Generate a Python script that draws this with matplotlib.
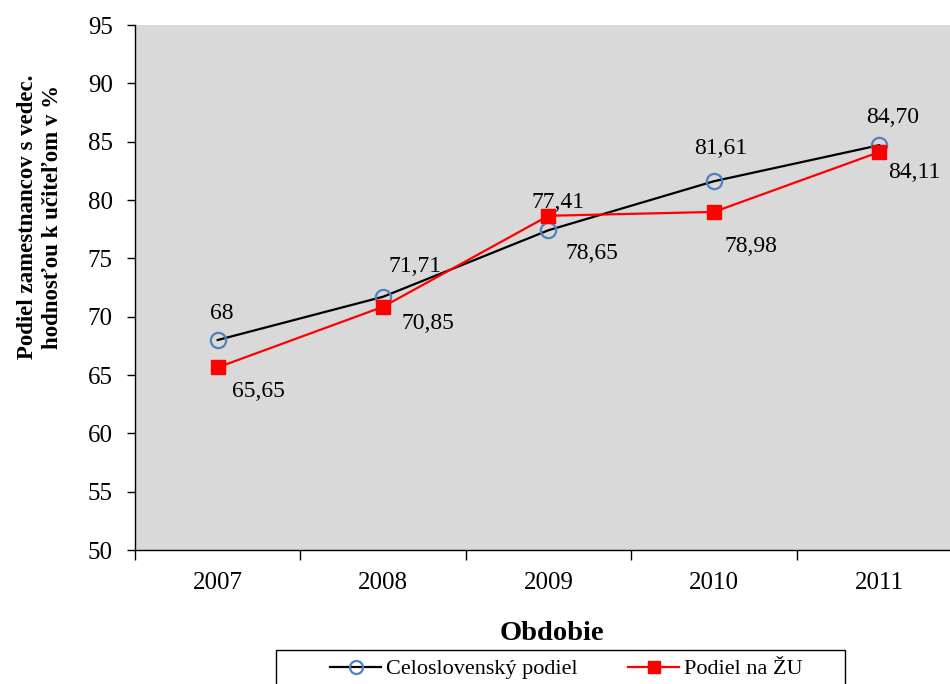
import matplotlib.pyplot as plt
from matplotlib.patches import Rectangle
import numpy as np

plt.rcParams['font.family'] = ['Liberation Serif', 'DejaVu Serif']

# data
years = ['2007', '2008', '2009', '2010', '2011']
celo = [68, 71.71, 77.41, 81.61, 84.70]
zu = [65.65, 70.85, 78.65, 78.98, 84.11]
celo_labels = ['68', '71,71', '77,41', '81,61', '84,70']
zu_labels = ['65,65', '70,85', '78,65', '78,98', '84,11']

# label offsets in pixels (dx, dy)
celo_off = [(4, 27), (32, 30), (10, 28), (7, 33), (13, 28)]
zu_off = [(41, -24), (45, -17), (43, -38), (37, -35), (35, -20)]

fig = plt.figure(figsize=(9.5, 6.84), dpi=100)
ax = fig.add_axes([0.1421, 0.1959, 0.8705, 0.7675])
ax.set_facecolor('#d9d9d9')

x = np.arange(len(years))
ax.plot(x, celo, color='black', lw=1.6, marker='o', ms=11, mfc='none',
        mec='#4f81bd', mew=1.6, label='Celoslovenský podiel', zorder=3)
ax.plot(x, zu, color='#ff0000', lw=1.6, marker='s', ms=9.5, mfc='#ff0000',
        mec='#ff0000', label='Podiel na ŽU', zorder=4)

for i in range(len(years)):
    ax.annotate(celo_labels[i], (x[i], celo[i]), xytext=celo_off[i],
                textcoords='offset pixels', ha='center', va='center', fontsize=17)
    ax.annotate(zu_labels[i], (x[i], zu[i]), xytext=zu_off[i],
                textcoords='offset pixels', ha='center', va='center', fontsize=17)

ax.set_xlim(-0.5, 4.5)
ax.set_ylim(50, 95)
ax.set_yticks(np.arange(50, 96, 5))
ax.set_xticks(x)
ax.set_xticklabels(years)
ax.set_xticks(np.arange(-0.5, 5, 1), minor=True)
ax.tick_params(axis='x', which='major', length=0, pad=16, labelsize=18)
ax.tick_params(axis='x', which='minor', length=7, direction='out', width=1)
ax.tick_params(axis='y', length=6, direction='out', width=1, pad=10, labelsize=18)

for s in ['top', 'right']:
    ax.spines[s].set_visible(False)
for s in ['left', 'bottom']:
    ax.spines[s].set_linewidth(1)
    ax.spines[s].set_color('black')

ax.set_ylabel('Podiel zamestnancov s vedec.\nhodnosťou k učiteľom v %',
              fontsize=16.5, fontweight='bold', linespacing=1.25)
ax.yaxis.set_label_coords(-0.087, 0.634)
ax.set_xlabel('Obdobie', fontsize=20.5, fontweight='bold')
ax.xaxis.set_label_coords(0.504, -0.135)

# legend box (cut by the figure's lower edge as in the original)
fig.patches.append(Rectangle((276 / 950, -0.05), 569 / 950, 0.05 + 34 / 684,
                             transform=fig.transFigure, fill=False,
                             edgecolor='black', lw=1, clip_on=False))
leg = fig.legend(loc='center left', bbox_to_anchor=(330 / 950, 15 / 684), ncol=2,
                 fontsize=16, frameon=False, borderpad=0, borderaxespad=0,
                 handlelength=2.3, handletextpad=0.2, columnspacing=2.3,
                 markerscale=0.85)

fig.savefig('out.png', dpi=100)
